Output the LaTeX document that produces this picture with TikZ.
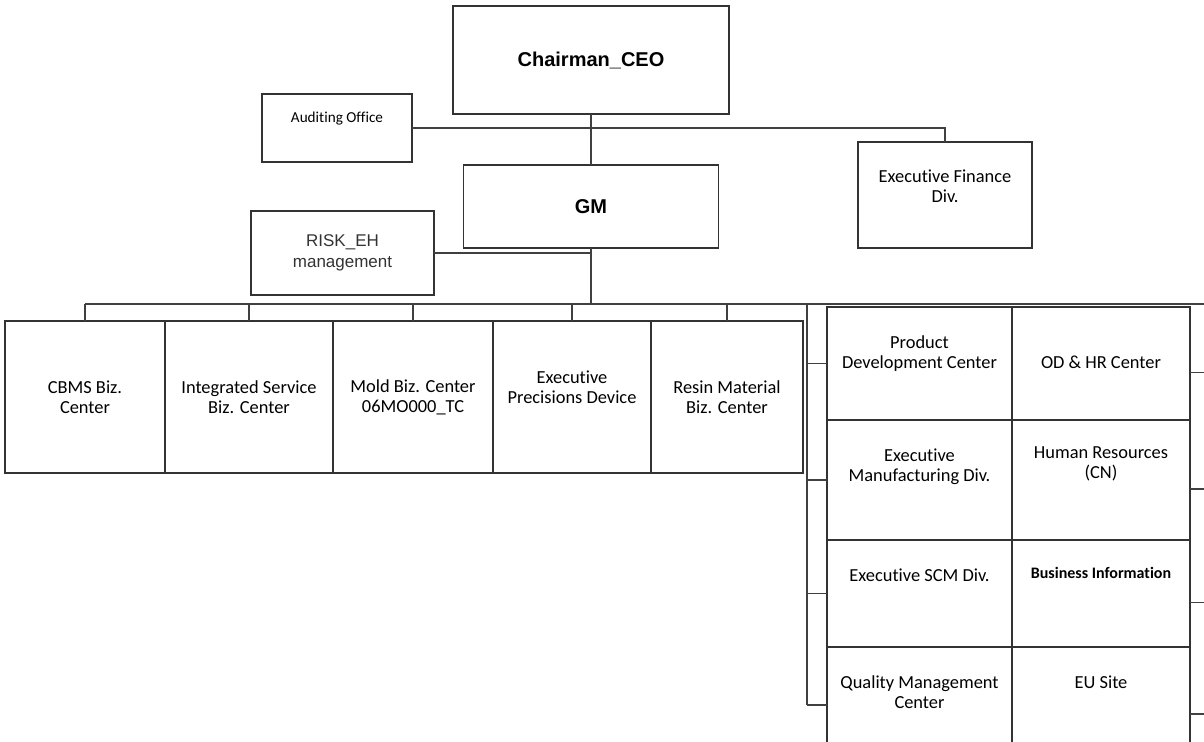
\documentclass[tikz,border=0pt]{standalone}
\usepackage{fontspec}
\setmainfont{Carlito}[Ligatures={NoCommon}]
\newfontfamily\arialfont{Liberation Sans}
\usetikzlibrary{positioning}

\newcommand\gillfont{\fontsize{9.2}{10}\selectfont}
\newcommand\smallgill{\fontsize{7.6}{9}\selectfont}

\tikzset{
	unit/.style={draw=black!80, line width=0.8pt, outer sep=0pt, inner sep=2pt, align=center, font=\gillfont},
	boss/.style={unit, font=\arialfont\bfseries\fontsize{10}{12}\selectfont},
	txt/.style={align=center, inner sep=0pt, font=\gillfont},
	link/.style={draw=black!75, line width=0.7pt},
}

\begin{document}
\begin{tikzpicture}[x=0.5pt, y=-0.5pt]

	\clip (0,0) rectangle (1204,742);

	% top of the chart
	\node[boss, minimum width=138pt, minimum height=54pt] (ceo) at (591,60) {Chairman\_CEO};
	\node[unit, minimum width=75pt, minimum height=34pt] (audit) at (337,128) {};
	\node[txt, font=\smallgill, below=9pt of audit.north] (auditT) {Auditing Office};
	\node[boss, minimum width=127.5pt, minimum height=41.5pt] (gm) at (591,206.5) {GM};
	\node[unit, minimum width=87pt, minimum height=53pt] (fin) at (945,195) {};
	\node[txt, below=13.5pt of fin.north] (finT) {Executive Finance\\Div.};
	\node[unit, minimum width=91.5pt, minimum height=42pt, text=black!80,
		font=\arialfont\fontsize{8.5}{10.5}\selectfont] (risk) at (342.5,253) {RISK\_EH\\management};

	% business centers
	\node[unit, minimum width=80pt, minimum height=76pt, line width=1pt] (cbms) at (85,397) {CBMS Biz.\\Center};
	\node[unit, minimum width=84pt, minimum height=76pt] (isbc) at (249,397) {Integrated Service\\Biz. Center};
	\node[unit, minimum width=80pt, minimum height=76pt] (mold) at (413,397) {Mold Biz. Center\\06MO000\_TC};
	\node[unit, minimum width=79pt, minimum height=76pt] (epd) at (572,397) {};
	\node[txt] (epdT) at ([yshift=5pt]epd.center) {Executive\\Precisions Device};
	\node[unit, minimum width=76pt, minimum height=76pt] (resin) at (727,397) {Resin Material\\Biz. Center};

	% staff divisions
	\node[unit, minimum width=92.5pt, minimum height=56.5pt] (pdc) at (919.5,363.5) {};
	\node[unit, minimum width=89pt, minimum height=56.5pt] (odhr) at (1101,363.5) {};
	\node[unit, minimum width=92.5pt, minimum height=60pt] (emd) at (919.5,480) {};
	\node[unit, minimum width=89pt, minimum height=60pt] (hr) at (1101,480) {};
	\node[unit, minimum width=92.5pt, minimum height=53.5pt] (scm) at (919.5,593.5) {};
	\node[unit, minimum width=89pt, minimum height=53.5pt] (bi) at (1101,593.5) {};
	\node[unit, minimum width=92.5pt, minimum height=58pt] (qmc) at (919.5,705) {};
	\node[unit, minimum width=89pt, minimum height=58pt] (eu) at (1101,705) {};

	\node[txt, below=14pt of pdc.north] (pdcT) {Product\\Development Center};
	\node[txt, below=24.5pt of odhr.north] (odhrT) {OD \& HR Center};
	\node[txt, below=14pt of emd.north] (emdT) {Executive\\Manufacturing Div.};
	\node[txt, below=13pt of hr.north] (hrT) {Human Resources\\(CN)};
	\node[txt, below=14pt of scm.north] (scmT) {Executive SCM Div.};
	\node[txt, font=\bfseries\fontsize{8}{9}\selectfont, below=13.5pt of bi.north] (biT) {Business Information};
	\node[txt, below=14pt of qmc.north] (qmcT) {Quality Management\\Center};
	\node[txt, below=14pt of eu.north] (euT) {EU Site};

	% lines
	\coordinate (bus) at (1204,304);
	\coordinate (spine) at (807,304);
	\coordinate (rim) at (1210,0);

	\draw[link] (ceo.south) -- (gm.north);
	\draw[link] (audit.east) -- (audit.east -| fin.north) -- (fin.north);
	\draw[link] (risk.east) -- (risk.east -| gm.south);
	\draw[link] (gm.south) -- (gm.south |- bus);
	\draw[link] (cbms.north |- bus) -- (bus);
	\foreach \b in {cbms,isbc,mold,epd,resin}
		\draw[link] (\b.north) -- (\b.north |- bus);
	\draw[link] (spine) -- (spine |- qmc.west);
	\foreach \c in {pdc,emd,scm,qmc}
		\draw[link] (\c.west) -- (\c.west -| spine);
	\foreach \c in {odhr,hr,bi,eu}
		\draw[link] ([yshift=-4.5pt]\c.east) -- ([yshift=-4.5pt]\c.east -| rim);

\end{tikzpicture}
\end{document}
